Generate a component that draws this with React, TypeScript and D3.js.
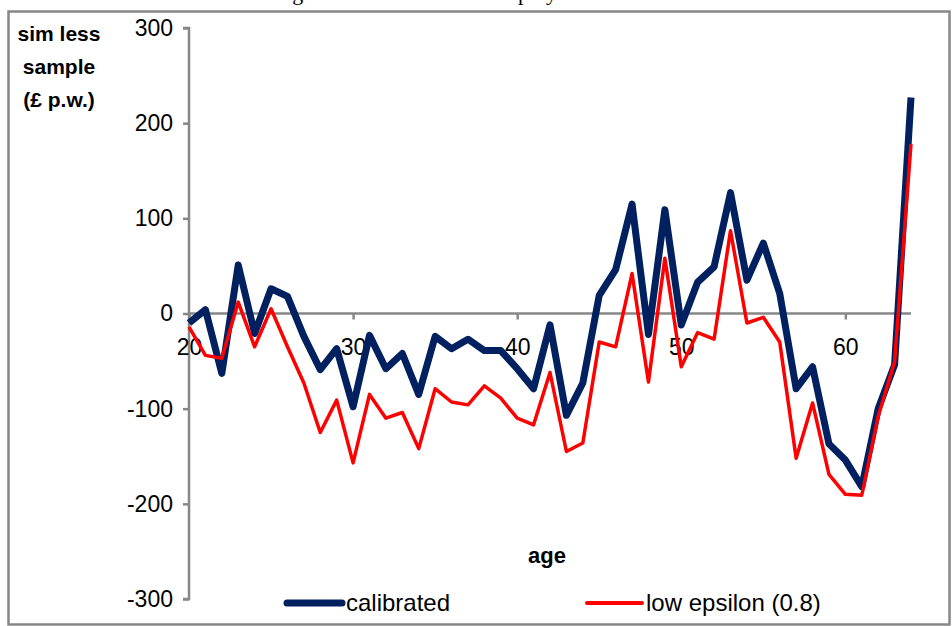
import React, { useRef, useEffect } from 'react';
import * as d3 from 'd3';

// age on the horizontal axis
const ages = [
  20, 21, 22, 23, 24, 25, 26, 27, 28, 29, 30, 31, 32, 33, 34, 35, 36, 37, 38, 39, 40, 41, 42,
  43, 44, 45, 46, 47, 48, 49, 50, 51, 52, 53, 54, 55, 56, 57, 58, 59, 60, 61, 62, 63, 64,
];
// sim less sample (£ p.w.)
const calibrated = [
  -10, 4, -63, 51, -21, 26, 18, -24, -59, -37, -98, -23, -58, -42, -85, -24, -37, -27, -39,
  -39, -58, -79, -12, -107, -73, 19, 46, 115, -22, 109, -12, 33, 49, 127, 35, 74, 21, -79, -56,
  -137, -154, -182, -100, -54, 227,
];
const lowEpsilon = [
  -14, -44, -47, 12, -35, 5, -35, -73, -125, -91, -157, -85, -110, -104, -142, -79, -93, -96,
  -76, -89, -110, -117, -62, -145, -136, -30, -35, 42, -72, 58, -56, -20, -27, 87, -10, -4, -30,
  -152, -94, -169, -190, -191, -108, -51, 178,
];
const xTicks = [20, 30, 40, 50, 60];
const yTicks = [-300, -200, -100, 0, 100, 200, 300];
const seriesNames = ['calibrated', 'low epsilon (0.8)'];

const FONT = '"Liberation Sans", Arial, sans-serif';
const AXIS = '#878787';

const App = () => {
  const Svg = useRef<SVGSVGElement>(null);

  useEffect(() => {
    const width = 952;
    const height = 626;
    const svg = d3.select(Svg.current).attr('width', width).attr('height', height);
    svg.selectAll('*').remove();

    const xScale = d3.scaleLinear().domain([20, 64]).range([189, 911]);
    const yScale = d3.scaleLinear().domain([-300, 300]).range([599, 28]);

    // caption above the frame, cut off by the top edge (only descenders show)
    svg.append('text').attr('x', 313).attr('y', -0.5).attr('text-anchor', 'end')
      .attr('font-family', '"Liberation Serif", serif').attr('font-size', 22).text('Average');
    svg.append('text').attr('x', 491).attr('y', -0.5)
      .attr('font-family', '"Liberation Serif", serif').attr('font-size', 22).text('employed');

    // outer frame
    svg.append('rect').attr('x', 8.5).attr('y', 11.5).attr('width', 941).attr('height', 613)
      .attr('fill', '#fff').attr('stroke', AXIS).attr('stroke-width', 2.5);

    // y axis
    const yAxis = d3.axisLeft(yScale).tickValues(yTicks).tickSize(6).tickPadding(10)
      .tickFormat((d) => `${d}`);
    const gy = svg.append('g').attr('transform', `translate(${xScale(20)},0)`).call(yAxis);
    gy.select('.domain').attr('stroke', AXIS).attr('stroke-width', 2.5)
      .attr('d', `M-6,${yScale(300)}H0V${yScale(-300)}H-6`);
    gy.selectAll('.tick line').attr('stroke', AXIS).attr('stroke-width', 2.5);
    gy.selectAll('.tick text').attr('font-family', FONT).attr('font-size', 23).attr('fill', '#000');

    // x axis at zero
    const xAxis = d3.axisBottom(xScale).tickValues(xTicks).tickSize(6).tickPadding(19)
      .tickFormat((d) => `${d}`);
    const gx = svg.append('g').attr('transform', `translate(0,${yScale(0)})`).call(xAxis);
    gx.select('.domain').attr('stroke', AXIS).attr('stroke-width', 2.5)
      .attr('d', `M${xScale(20)},0H${xScale(64)}`);
    gx.selectAll('.tick line').attr('stroke', AXIS).attr('stroke-width', 2.5);
    gx.selectAll('.tick text').attr('font-family', FONT).attr('font-size', 23).attr('fill', '#000');

    // series
    const line = d3.line<number>().x((d, i) => xScale(ages[i])).y((d) => yScale(d));
    svg.append('path').datum(calibrated).attr('d', line).attr('fill', 'none')
      .attr('stroke', '#002060').attr('stroke-width', 7).attr('stroke-linejoin', 'round');
    svg.append('path').datum(lowEpsilon).attr('d', line).attr('fill', 'none')
      .attr('stroke', '#ff0000').attr('stroke-width', 3.5).attr('stroke-linejoin', 'round');

    // axis titles
    const yTitle = svg.append('text').attr('text-anchor', 'middle').attr('font-family', FONT)
      .attr('font-size', 21).attr('font-weight', 'bold');
    ['sim less', 'sample', '(£ p.w.)'].forEach((t, i) => {
      yTitle.append('tspan').attr('x', 59).attr('y', 41 + i * 33).text(t);
    });
    svg.append('text').attr('x', 547).attr('y', 563).attr('text-anchor', 'middle')
      .attr('font-family', FONT).attr('font-size', 22).attr('font-weight', 'bold').text('age');

    // legend
    const legend = [
      { name: seriesNames[0], color: '#002060', w: 7, x: 287 },
      { name: seriesNames[1], color: '#ff0000', w: 4, x: 587 },
    ];
    legend.forEach((l) => {
      svg.append('line').attr('x1', l.x).attr('x2', l.x + 55).attr('y1', 603).attr('y2', 603)
        .attr('stroke', l.color).attr('stroke-width', l.w).attr('stroke-linecap', 'round');
      svg.append('text').attr('x', l.x + 59).attr('y', 611).attr('font-family', FONT)
        .attr('font-size', 24).text(l.name);
    });
  }, []);

  return <svg ref={Svg} style={{ position: 'absolute', left: 0, top: 0 }} />;
};

export default App;
